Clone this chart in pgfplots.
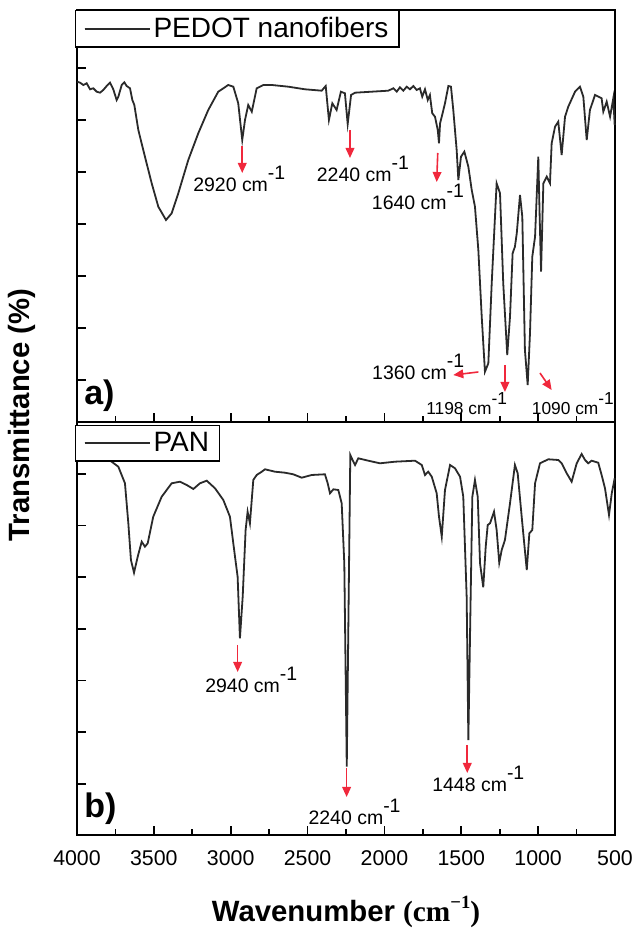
\documentclass[border=0pt]{standalone}
\usepackage{pgfplots}
\pgfplotsset{compat=1.18}
\usetikzlibrary{arrows.meta}
\usepackage{fontspec}
\setmainfont{Liberation Sans}
\newfontfamily\serifbf{Liberation Serif}
\definecolor{curve}{HTML}{2A2A2A}
\definecolor{arrowred}{HTML}{F0283C}
\newcommand{\cmi}{cm\raisebox{0.62em}{-1}}
\newcommand{\fs}[1]{\fontsize{#1}{#1}\selectfont}
\tikzset{
  arr/.style={arrowred, line width=1.2pt, -{Triangle[length=7.5pt,width=6.5pt]}},
  lab/.style={anchor=base west, inner sep=0pt, font=\fs{14.6}},
  slab/.style={anchor=base west, inner sep=0pt, font=\fs{13}},
}
\pgfplotsset{
  panel/.style={
    scale only axis, width=403.5pt,
    xmin=500, xmax=4000, x dir=reverse,
    xtick={500,1000,...,4000}, minor x tick num=1,
    axis line style={line width=1.5pt},
    tick style={line width=1.2pt, black},
    major tick length=7pt, minor tick length=4.5pt,
    tick align=inside,
    xtick pos=left, ytick pos=left,
    yticklabels={},
    clip=false,
    legend cell align=left,
    legend style={at={(0,1)}, anchor=north west, xshift=-1.5pt, draw=black,
      line width=1.1pt, fill=white, font=\fs{21}, inner xsep=6pt, inner ysep=3.2pt,
      nodes={inner sep=2pt}},
    legend image code/.code={\draw[line width=1.1pt, curve] (0pt,0pt) -- (47pt,0pt);
      \path (0pt,0pt) -- (49pt,0pt);},
    /pgf/number format/assume math mode=true,
    /pgf/number format/1000 sep={},
  },
}

\begin{document}
\begin{tikzpicture}
\path (0pt,0pt) rectangle (481.5pt,704.25pt);

% ---------- panel b (PAN) ----------
\begin{axis}[panel, at={(57.75pt,78pt)}, anchor=south west, height=309.75pt,
  ymin=0, ymax=413, ytick={51,102.7,154.4,206.1,257.8,309.5,361.2},
  legend style={yshift=-2.2pt, inner xsep=6pt},
  xticklabel style={font=\fs{16}, yshift=-8pt}]
\addplot[curve, line width=1.35pt] coordinates {
(3998,375.7) (3796,375.7) (3731,368.3) (3688,351.7) (3666,311.7) (3649,275) (3629,262.3) (3605,278.3) (3579,293.3) (3558,288.3) (3540,291.7) (3504,318.3) (3449,338.3) (3384,351.7) (3330,353.3) (3286,350) (3243,346) (3200,351.7) (3156,354.3) (3102,346.7) (3048,335) (3005,318.3) (2972,278.3) (2955,258.3) (2940,196.7) (2922,238.3) (2903,305) (2890,323.3) (2875,311.7) (2853,355) (2831,360) (2798,363.3) (2777,365.7) (2712,363.3) (2647,362.3) (2593,360.7) (2538,357.3) (2473,360) (2387,360.7) (2369,351.7) (2354,341.7) (2332,345.7) (2300,345) (2278,331.7) (2261,271.7) (2245,68.3) (2230,271.7) (2222,380) (2202,373.3) (2191,370) (2170,376.7) (2105,374.3) (2029,371.7) (1931,373.3) (1801,374.3) (1757,370) (1736,360) (1715,363.3) (1692,358.3) (1660,341.7) (1645,318.3) (1627,298.3) (1606,345) (1573,370) (1541,366.7) (1508,358.3) (1487,338.3) (1465,238.3) (1454,95) (1439,238.3) (1428,338.3) (1411,355) (1393,338.3) (1378,271.7) (1357,247.7) (1341,288.3) (1328,310) (1313,311.7) (1287,323.3) (1270,305) (1253,272.3) (1237,285) (1216,295) (1183,331.7) (1151,370) (1133,361.7) (1107,318.3) (1074,265) (1057,301.7) (1038,305) (1020,351.7) (988,371.7) (934,375.7) (869,375) (847,371.7) (814,361.7) (782,353.3) (749,371.7) (717,381) (695,375) (674,371.7) (652,374.3) (609,372.3) (587,360) (565,346.7) (539,320) (521,341.7) (502,356.7)
};
\addlegendentry{PAN\hspace{6pt}}
\draw[arr] (axis cs:2955,190) -- (axis cs:2955,163);
\node[lab] at (axis cs:3167,142) {2940 \cmi};
\draw[arr] (axis cs:2246,67) -- (axis cs:2246,38);
\node[lab] at (axis cs:2495,10) {2240 \cmi};
\draw[arr] (axis cs:1461,90) -- (axis cs:1461,62);
\node[lab] at (axis cs:1690,43) {1448 \cmi};
\node[anchor=base west, inner sep=0pt, font=\bfseries\fs{25.5}] at (axis cs:3954,17) {b)};
\end{axis}

% ---------- panel a (PEDOT) ----------
\begin{axis}[panel, at={(57.75pt,387.75pt)}, anchor=south west, height=309pt,
  ymin=0, ymax=412, ytick={42,94,146,198,250,302,354,406}, xticklabels={}]
\addplot[curve, line width=1.35pt] coordinates {
(3998,340.3) (3980,339.3) (3959,337) (3937,338.7) (3915,332.7) (3894,333.7) (3872,330.3) (3850,329.3) (3829,332) (3807,336) (3785,339.3) (3764,332.7) (3742,322) (3731,325.3) (3709,337) (3692,339.7) (3677,336) (3655,333.7) (3640,322) (3627,317) (3601,292) (3558,265.3) (3514,238.7) (3471,215.3) (3421,202) (3384,208.7) (3341,228.7) (3276,262) (3211,288.7) (3146,312) (3081,330.3) (3016,337) (2983,335.3) (2951,318.7) (2925,282) (2907,302) (2886,317) (2863,310.3) (2831,333.7) (2788,337) (2733,337) (2625,335.3) (2517,332.7) (2408,331.3) (2382,336) (2361,302) (2339,318.7) (2311,312) (2283,330.3) (2257,328.7) (2239,298) (2217,327) (2191,329.3) (2083,330.3) (1975,331.3) (1942,333.7) (1920,330.3) (1899,334.7) (1877,331.3) (1855,335.3) (1834,332.7) (1812,336) (1790,332) (1769,333.7) (1754,325.3) (1736,332.7) (1718,322) (1704,327) (1689,308.7) (1671,305.3) (1653,292) (1645,278.7) (1638,298.7) (1627,305.3) (1606,318.7) (1584,336) (1567,335.3) (1552,312) (1530,272) (1519,242) (1502,265.3) (1480,270.3) (1454,255.3) (1432,232) (1411,215.3) (1389,172) (1367,105.3) (1346,50.3) (1324,58.7) (1302,138.7) (1270,238.7) (1248,228.7) (1227,138.7) (1201,67) (1183,105.3) (1166,168.7) (1151,175.3) (1139,188.7) (1118,227) (1103,205.3) (1086,72) (1068,37) (1053,88.7) (1038,165.3) (1020,185.3) (999,265.3) (990,205.3) (981,150.3) (966,238.7) (944,245.3) (923,238.7) (912,278.7) (890,295.3) (869,300.3) (847,267) (825,305.3) (804,315.3) (760,330.3) (728,335.3) (706,325.3) (684,282) (663,312) (630,327) (587,323.7) (576,310.3) (554,320.3) (532,305.3) (511,323.7) (502,297)
};
\addlegendentry{PEDOT nanofibers}
\draw[arr] (axis cs:2925,276) -- (axis cs:2925,249);
\node[lab] at (axis cs:3245,230) {2920 \cmi};
\draw[arr] (axis cs:2224,292) -- (axis cs:2224,264);
\node[lab] at (axis cs:2441,240) {2240 \cmi};
\draw[arr] (axis cs:1653,269) -- (axis cs:1660,240);
\node[lab] at (axis cs:2083,212) {1640 \cmi};
\draw[arr] (axis cs:1389,50) -- (axis cs:1552,47);
\node[lab] at (axis cs:2081,42) {1360 \cmi};
\draw[arr] (axis cs:1216,57) -- (axis cs:1216,30);
\node[slab] at (axis cs:1729,7) {1198 \cmi};
\draw[arr] (axis cs:988,49) -- (axis cs:912,32);
\node[slab] at (axis cs:1042,7) {1090 \cmi};
\node[anchor=base west, inner sep=0pt, font=\bfseries\fs{25.5}] at (axis cs:3954,17) {a)};
\end{axis}

% ---------- axis titles ----------
\node[rotate=90, font=\bfseries\fs{22}, inner sep=0pt] at (16.5pt,393pt) {Transmittance (\%)};
\node[font=\bfseries\fs{22}, inner sep=0pt] at (259.5pt,20.25pt)
  {Wavenumber {\serifbf\bfseries (cm\raisebox{0.45em}{\fs{14}−1})}};
\end{tikzpicture}
\end{document}
